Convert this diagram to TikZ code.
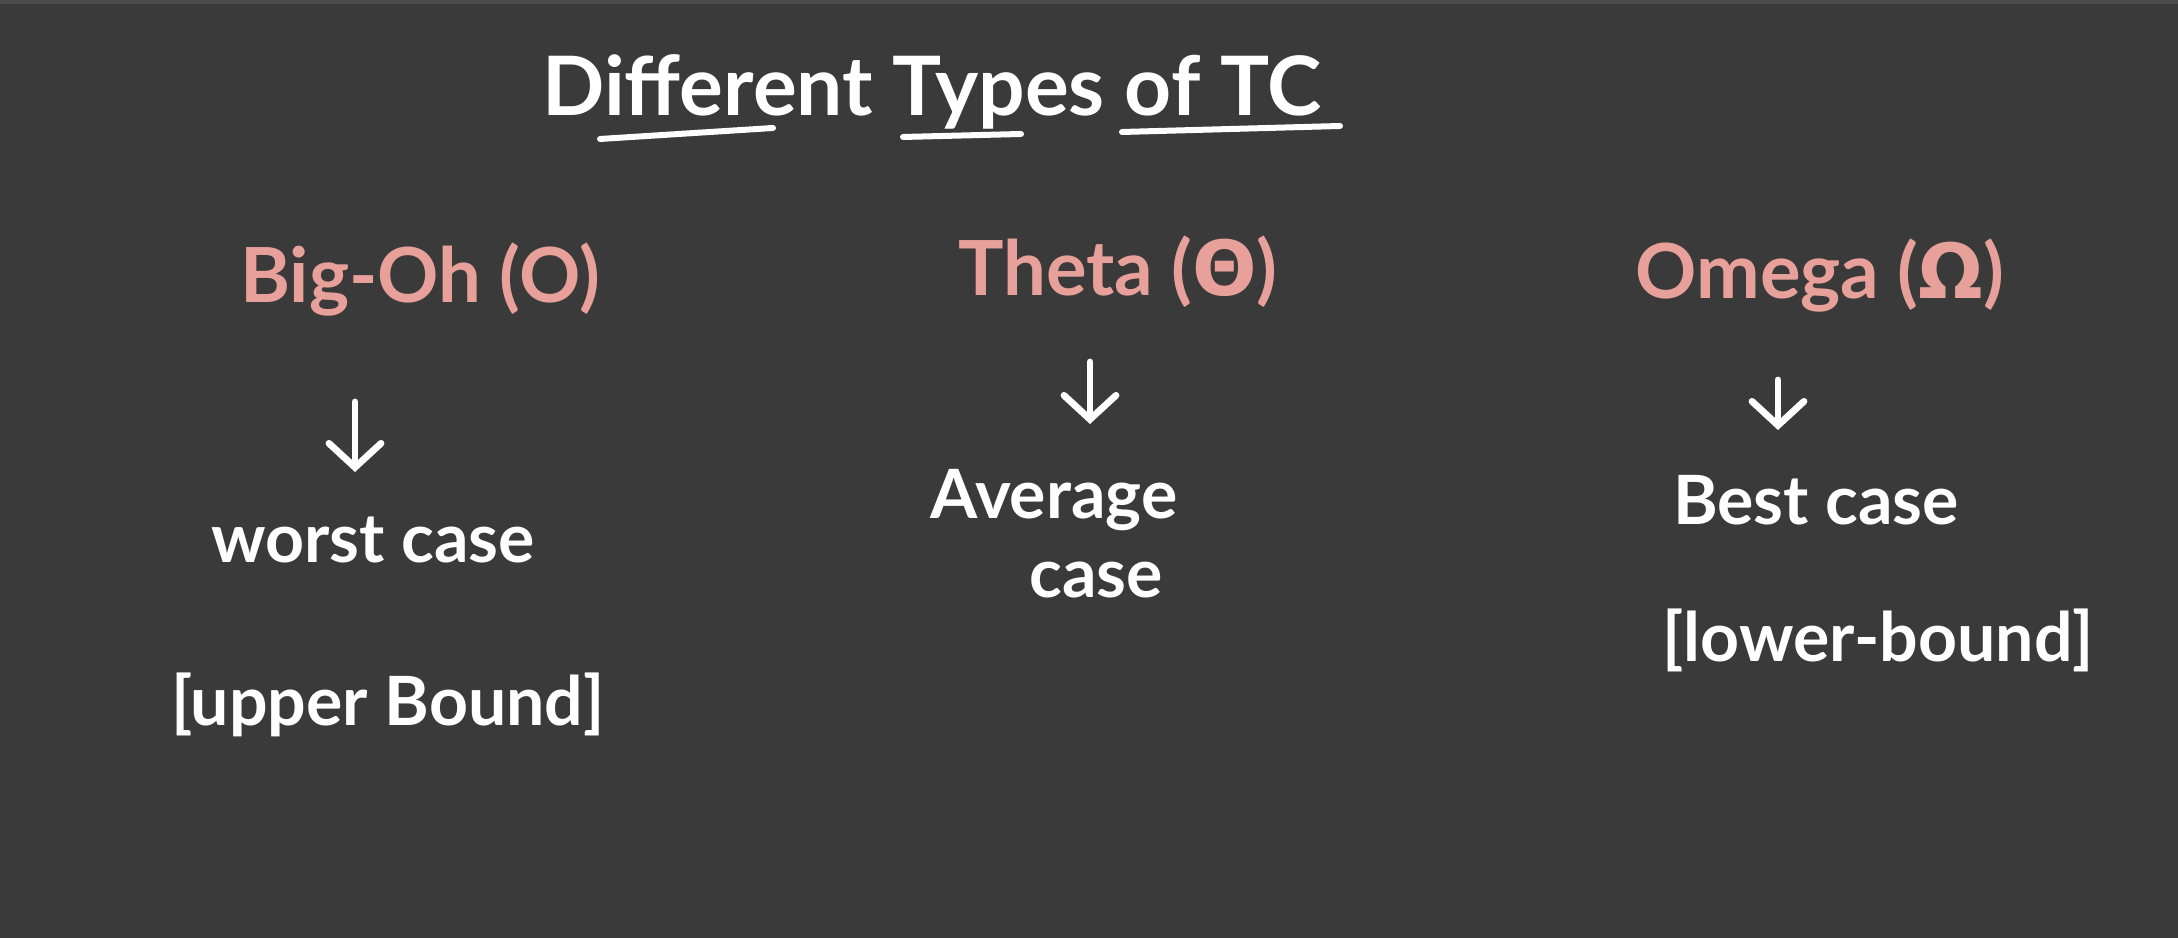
\documentclass[tikz,border=0pt]{standalone}
\usepackage{fontspec}
\setmainfont{Lato}
\newfontfamily\grkfont{DejaVu Sans}
\usetikzlibrary{arrows.meta}
\definecolor{bg}{HTML}{3A3A3A}
\definecolor{topedge}{HTML}{4A4A4A}
\definecolor{pinkhead}{HTML}{E8A09B}
\tikzset{
  head/.style={text=pinkhead, font=\bfseries\fontsize{19}{23}\selectfont, inner sep=0pt},
  body/.style={text=white, font=\bfseries\fontsize{17}{20}\selectfont, inner sep=0pt},
  titletext/.style={text=white, font=\bfseries\fontsize{20.5}{24}\selectfont, inner sep=0pt},
  downarrow/.style={draw=white, line width=1.7pt, line cap=round,
    -{Straight Barb[length=6pt, width=13pt, line cap=round]}},
  uline/.style={draw=white, line width=1.5pt, line cap=round}
}
\begin{document}
\begin{tikzpicture}[x=0.25pt, y=-0.25pt]
\fill[bg] (0,0) rectangle (2178,938);
\fill[topedge] (0,0) rectangle (2178,4);
\useasboundingbox (0,0) rectangle (2178,938);

% title
\node[titletext] (title) at (932,92) {Different Types of TC};
\coordinate (u1a) at (600,139); \coordinate (u1b) at (773,128);
\coordinate (u2a) at (903,137); \coordinate (u2b) at (1021,134);
\coordinate (u3a) at (1122,132); \coordinate (u3b) at (1340,126);
\draw[uline] (u1a) -- (u1b);
\draw[uline] (u2a) -- (u2b);
\draw[uline] (u3a) -- (u3b);

% column heads
\node[head] (bigoh) at (420,280) {Big-Oh (O)};
\node[head] (theta) at (1118,272) {Theta ({\grkfont Θ})};
\node[head] (omega) at (1820,276) {Omega ({\grkfont Ω})};

% arrows
\coordinate (a1s) at (355,402); \coordinate (a1e) at (355,472);
\coordinate (a2s) at (1090,362); \coordinate (a2e) at (1090,424);
\coordinate (a3s) at (1778,380); \coordinate (a3e) at (1778,430);
\draw[downarrow] (a1s) -- (a1e);
\draw[downarrow] (a2s) -- (a2e);
\draw[downarrow] (a3s) -- (a3e);

% body texts
\node[body] (worst) at (373,540) {worst case};
\node[body] (upper) at (388,705) {[upper Bound]};
\node[body] (avg) at (1054,500) {Average};
\node[body] (avgcase) at (1096,580) {case};
\node[body] (best) at (1816,500) {Best case};
\node[body] (lower) at (1878,640) {[lower-bound]};
\end{tikzpicture}
\end{document}
